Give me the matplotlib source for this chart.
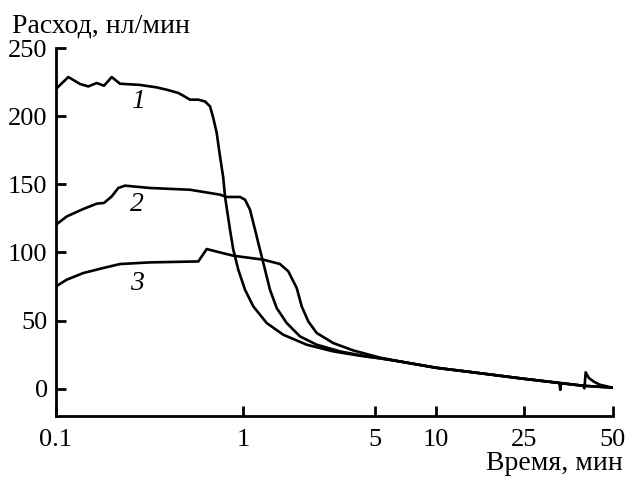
import numpy as np
import matplotlib
matplotlib.use("Agg")
import matplotlib.pyplot as plt

plt.rcParams["font.family"] = ["Liberation Serif", "DejaVu Serif"]

# curve 1
t1 = [0.1, 0.1164, 0.1344, 0.1488, 0.1651, 0.1806, 0.1986, 0.2199, 0.2813, 0.3455,
      0.3908, 0.4508, 0.4794, 0.5206, 0.5768, 0.6263, 0.6661, 0.6938, 0.7236, 0.7534,
      0.7846, 0.8012, 0.852, 0.8874, 0.9438, 1.025, 1.134, 1.335, 1.635, 2.175,
      3.007, 4.165, 5.3, 6.644, 10.0, 15.81, 25.0, 33.0, 33.2,
      33.4, 39.7, 40.1, 40.5, 41.5, 43.0, 45.3, 50.0]
q1 = [220, 228.7, 223.6, 221.8, 224.3, 222.3, 228.7, 223.8, 222.9, 221.1,
      219.4, 217.0, 215.0, 212.1, 212.1, 210.8, 207.2, 198.6, 187.6, 170.5,
      154.6, 141.1, 116.7, 102.0, 87.3, 72.6, 60.4, 48.2, 39.6, 32.3,
      27.4, 24.2, 22.3, 20.0, 15.4, 11.4, 7.3, 4.2, -0.8,
      4.1, 2.2, 0.3, 12.0, 8.0, 5.4, 2.9, 0.8]

# curve 2
t2 = [0.1, 0.1141, 0.14, 0.1651, 0.1806, 0.1986, 0.2154, 0.2339, 0.3183, 0.5206,
      0.6396, 0.7534, 0.818, 0.9637, 1.025, 1.089, 1.158, 1.23, 1.308, 1.39,
      1.508, 1.704, 2.004, 2.456, 3.264, 4.519, 5.3, 6.644, 10.0, 15.81,
      25.0, 39.7, 50.0]
q2 = [120.3, 126.4, 131.9, 135.8, 136.3, 141.1, 147.3, 149.0, 147.3, 146.0,
      144.0, 142.4, 140.7, 140.7, 138.7, 131.4, 116.7, 102.0, 87.3, 72.6,
      59.2, 48.2, 38.4, 32.3, 27.4, 23.7, 22.3, 20.0, 15.4, 11.4,
      7.3, 2.2, 0.8]

# curve 3
t3 = [0.1, 0.1141, 0.14, 0.1791, 0.2199, 0.3183, 0.5768, 0.6396, 0.7534, 0.8874,
      1.281, 1.57, 1.738, 1.925, 2.046, 2.217, 2.456, 3.007, 3.837, 5.3,
      6.644, 10.0, 15.81, 25.0, 39.7, 50.0]
q3 = [75.1, 80.0, 84.9, 88.6, 91.5, 92.7, 93.4, 102.5, 100.0, 97.6,
      94.7, 91.5, 86.1, 73.9, 60.4, 49.4, 40.9, 33.5, 28.1, 22.8,
      20.0, 15.4, 11.4, 7.3, 2.2, 0.8]

xticks = [0.1, 1, 5, 10, 25, 50]
xtick_labels = ["0.1", "1", "5", "10", "25", "50"]
yticks = [0, 50, 100, 150, 200, 250]

curve_labels = ["1", "2", "3"]
label_t = [0.275, 0.272, 0.272]
label_q = [210.8, 135, 77]

# the time axis in the source is not a clean log scale: piecewise log between ticks
tick_pos = np.array([0, 187, 319, 380, 468, 556.6])
tick_log = np.log10(xticks)


def fwd(x):
    lx = np.log10(np.clip(np.asarray(x, dtype=float), 1e-6, None))
    y = np.interp(lx, tick_log, tick_pos)
    s0 = (tick_pos[1] - tick_pos[0]) / (tick_log[1] - tick_log[0])
    s1 = (tick_pos[-1] - tick_pos[-2]) / (tick_log[-1] - tick_log[-2])
    y = np.where(lx < tick_log[0], tick_pos[0] + (lx - tick_log[0]) * s0, y)
    y = np.where(lx > tick_log[-1], tick_pos[-1] + (lx - tick_log[-1]) * s1, y)
    return y


def inv(y):
    y = np.asarray(y, dtype=float)
    lx = np.interp(y, tick_pos, tick_log)
    s0 = (tick_log[1] - tick_log[0]) / (tick_pos[1] - tick_pos[0])
    s1 = (tick_log[-1] - tick_log[-2]) / (tick_pos[-1] - tick_pos[-2])
    lx = np.where(y < tick_pos[0], tick_log[0] + (y - tick_pos[0]) * s0, lx)
    lx = np.where(y > tick_pos[-1], tick_log[-1] + (y - tick_pos[-1]) * s1, lx)
    return 10 ** lx


fig = plt.figure(figsize=(6.28, 4.78), dpi=100)
ax = fig.add_axes([56 / 628, 1 - 416 / 478, 556.6 / 628, 368 / 478])

for t, q in [(t1, q1), (t2, q2), (t3, q3)]:
    ax.plot(t, q, color="black", lw=1.9, solid_joinstyle="round")

for lab, tx, qy in zip(curve_labels, label_t, label_q):
    ax.text(tx, qy, lab, fontsize=20, style="italic", ha="center", va="center")

ax.set_xscale("function", functions=(fwd, inv))
ax.set_xlim(0.1, 50)
ax.set_ylim(-20, 250)
ax.set_xticks(xticks)
ax.set_xticklabels(xtick_labels)
ax.set_xticks([], minor=True)
ax.set_yticks(yticks)

for side in ["top", "right"]:
    ax.spines[side].set_visible(False)
for side in ["left", "bottom"]:
    ax.spines[side].set_linewidth(2)

ax.tick_params(direction="in", length=7.5, width=2, labelsize=19, pad=6)
ax.tick_params(axis="x", pad=9)

fig.text(12 / 628, 1 - 32 / 478, "Расход, нл/мин", fontsize=20, va="baseline", ha="left")
fig.text(623 / 628, 1 - 470 / 478, "Время, мин", fontsize=20, va="baseline", ha="right")

fig.savefig("out.png", dpi=100)
